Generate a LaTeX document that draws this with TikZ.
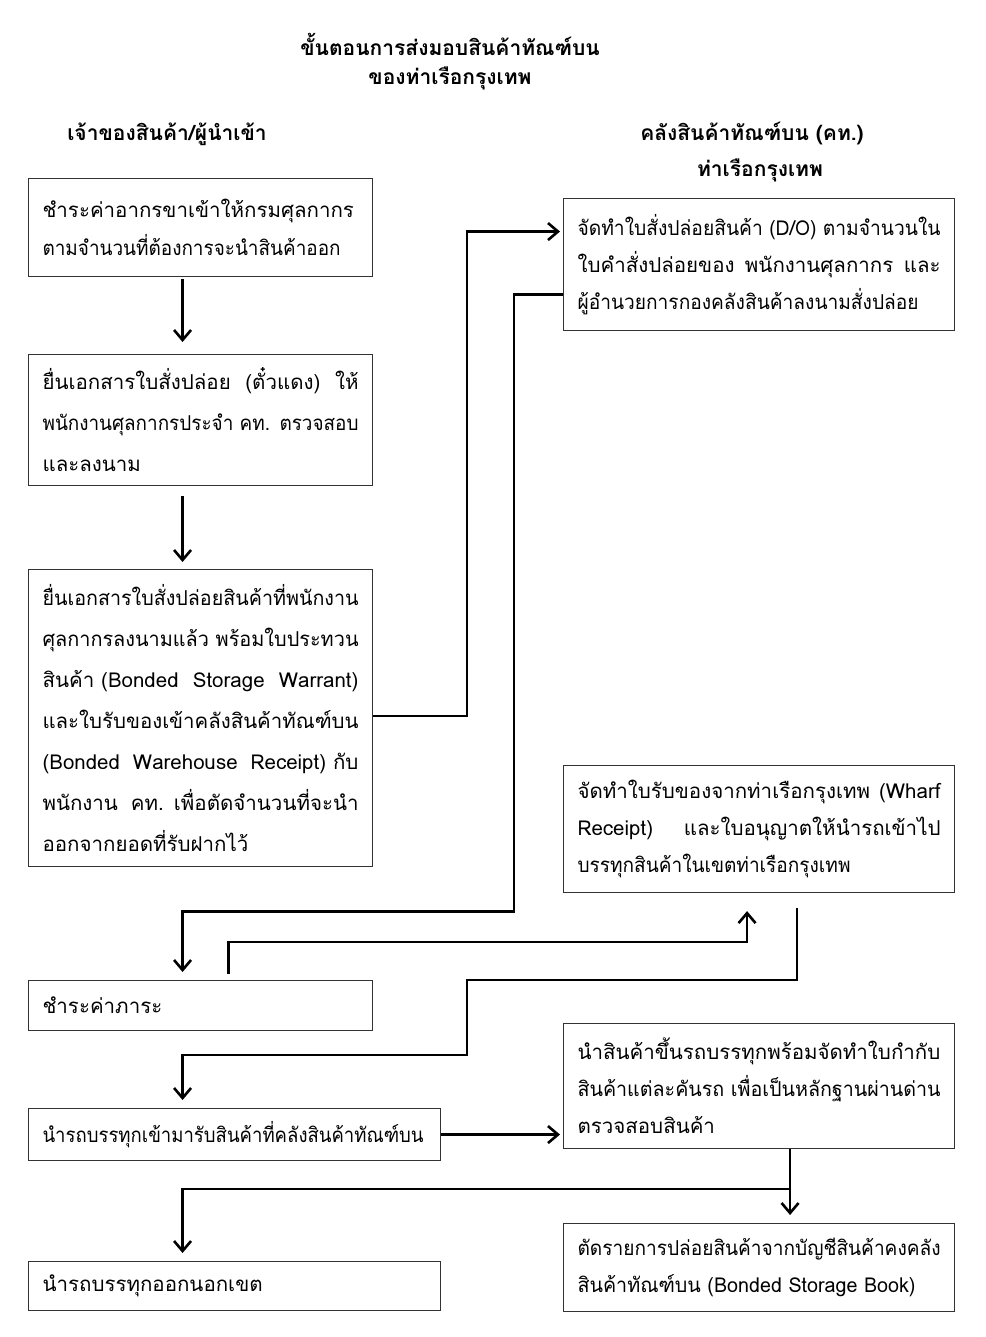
\documentclass[tikz,border=0pt]{standalone}
\usepackage{fontspec}
\usepackage{graphicx}
\setmainfont[Script=Thai]{Loma}
\usetikzlibrary{arrows.meta,calc}
\newsavebox\flbox
\newcommand{\fl}[2][\hsize]{\leavevmode\sbox\flbox{#2}\ifdim\wd\flbox>#1\relax\resizebox{#1}{\height}{\usebox\flbox}\else\hbox to #1{\spaceskip=\fontdimen2\font plus 1fil\relax#2}\fi}
\begin{document}
\begin{tikzpicture}[x=1pt,y=-1pt,
  box/.style={draw=black!80, line width=1.1pt, rectangle, anchor=north west, inner xsep=14pt, inner ysep=0pt, align=left, font=\fontsize{20.5}{41}\selectfont},
  lbox/.style={box, text width=316pt},
  rbox/.style={box, text width=363pt, font=\fontsize{20.5}{37}\selectfont},
  head/.style={font=\bfseries\fontsize{21}{24}\selectfont, anchor=center, inner sep=0pt},
  arr/.style={line width=2.6pt, -{Straight Barb[length=10pt,width=17pt,line width=2.6pt]}}
]
\useasboundingbox (0,0) rectangle (985,1337);
% titles
\node[head] (t1) at (450,44) {ขั้นตอนการส่งมอบสินค้าทัณฑ์บน};
\node[head] (t2) at (450,78) {ของท่าเรือกรุงเทพ};
\node[head] (hl) at (167,134) {เจ้าของสินค้า/ผู้นำเข้า};
\node[head] (hr1) at (752,133) {คลังสินค้าทัณฑ์บน (คท.)};
\node[head] (hr2) at (760,170) {ท่าเรือกรุงเทพ};
% left boxes
\node[lbox, minimum width=344pt, minimum height=98pt, font=\fontsize{20.5}{38}\selectfont] (b1) at (28,178)
  {\fl{ชำระค่าอากรขาเข้าให้กรมศุลกากร}\\\fl[298pt]{ตามจำนวนที่ต้องการจะนำสินค้าออก}};
\node[lbox, minimum width=344pt, minimum height=131pt] (b2) at (28,354)
  {\fl{ยื่นเอกสารใบสั่งปล่อย (ตั๋วแดง) ให้}\\\fl{พนักงานศุลกากรประจำ คท. ตรวจสอบ}\\และลงนาม};
\node[lbox, minimum width=344pt, minimum height=297pt] (b3) at (28,569)
  {\fl{ยื่นเอกสารใบสั่งปล่อยสินค้าที่พนักงาน}\\\fl{ศุลกากรลงนามแล้ว พร้อมใบประทวน}\\\fl{สินค้า (Bonded\hfill Storage\hfill Warrant)}\\\fl{และใบรับของเข้าคลังสินค้าทัณฑ์บน}\\\fl{(Bonded\hfill Warehouse\hfill Receipt) กับ}\\\fl{พนักงาน คท. เพื่อตัดจำนวนที่จะนำ}\\ออกจากยอดที่รับฝากไว้};
\node[lbox, minimum width=344pt, minimum height=50pt] (b4) at (28,980) {ชำระค่าภาระ};
\node[lbox, text width=384pt, minimum width=412pt, minimum height=52pt] (b5) at (28,1108) {\fl[381pt]{นำรถบรรทุกเข้ามารับสินค้าที่คลังสินค้าทัณฑ์บน}};
\node[lbox, text width=384pt, minimum width=412pt, minimum height=49pt] (b6) at (28,1261) {นำรถบรรทุกออกนอกเขต};
% right boxes
\node[rbox, minimum width=390pt, minimum height=132pt] (r1) at (563,198)
  {\fl{จัดทำใบสั่งปล่อยสินค้า (D/O) ตามจำนวนใน}\\\fl{ใบคำสั่งปล่อยของ พนักงานศุลกากร และ}\\\fl[341pt]{ผู้อำนวยการกองคลังสินค้าลงนามสั่งปล่อย}};
\node[rbox, minimum width=390pt, minimum height=127pt] (r2) at (563,765)
  {\fl{จัดทำใบรับของจากท่าเรือกรุงเทพ (Wharf}\\\fl{Receipt) และใบอนุญาตให้นำรถเข้าไป}\\\fl[273pt]{บรรทุกสินค้าในเขตท่าเรือกรุงเทพ}};
\node[rbox, minimum width=390pt, minimum height=125pt] (r3) at (563,1023)
  {\fl{นำสินค้าขึ้นรถบรรทุกพร้อมจัดทำใบกำกับ}\\\fl{สินค้าแต่ละคันรถ เพื่อเป็นหลักฐานผ่านด่าน}\\ตรวจสอบสินค้า};
\node[rbox, minimum width=390pt, minimum height=88pt] (r4) at (563,1223)
  {\fl{ตัดรายการปล่อยสินค้าจากบัญชีสินค้าคงคลัง}\\\fl[338pt]{สินค้าทัณฑ์บน (Bonded Storage Book)}};
% connectors
\draw[arr, shorten <=2pt, shorten >=12pt] ([xshift=-18pt]b1.south) -- ([xshift=-18pt]b2.north);
\draw[arr, shorten <=10pt, shorten >=7pt] ([xshift=-18pt]b2.south) -- ([xshift=-18pt]b3.north);
\draw[arr, shorten >=3pt] ([yshift=2pt]b3.east) -- ++(94,0) |- ([yshift=33pt]r1.west);
\draw[arr, shorten >=8pt] ([yshift=-30pt]r1.west) -- ++(-49,0) -- ++(0,617) -| ([xshift=-18pt]b4.north);
\draw[arr, shorten <=6pt, shorten >=18pt] ([xshift=28pt]b4.north) -- ++(0,-38) -| ([xshift=-12pt]r2.south);
\draw[arr, shorten <=15pt, shorten >=8pt] ([xshift=38pt]r2.south) -- ++(0,87) -- ++(-330,0) -- ++(0,75) -| ([xshift=-52pt]b5.north);
\draw[arr, shorten >=3pt] (b5.east) -- (b5.east -| r3.west);
\coordinate (j) at ([xshift=31pt,yshift=-40pt]r3.south);
\draw[arr, shorten >=8pt] ([xshift=31pt]r3.south) -- ([xshift=31pt]r4.north);
\draw[arr, shorten >=8pt] (j) -| ([xshift=-52pt]b6.north);
\end{tikzpicture}
\end{document}
